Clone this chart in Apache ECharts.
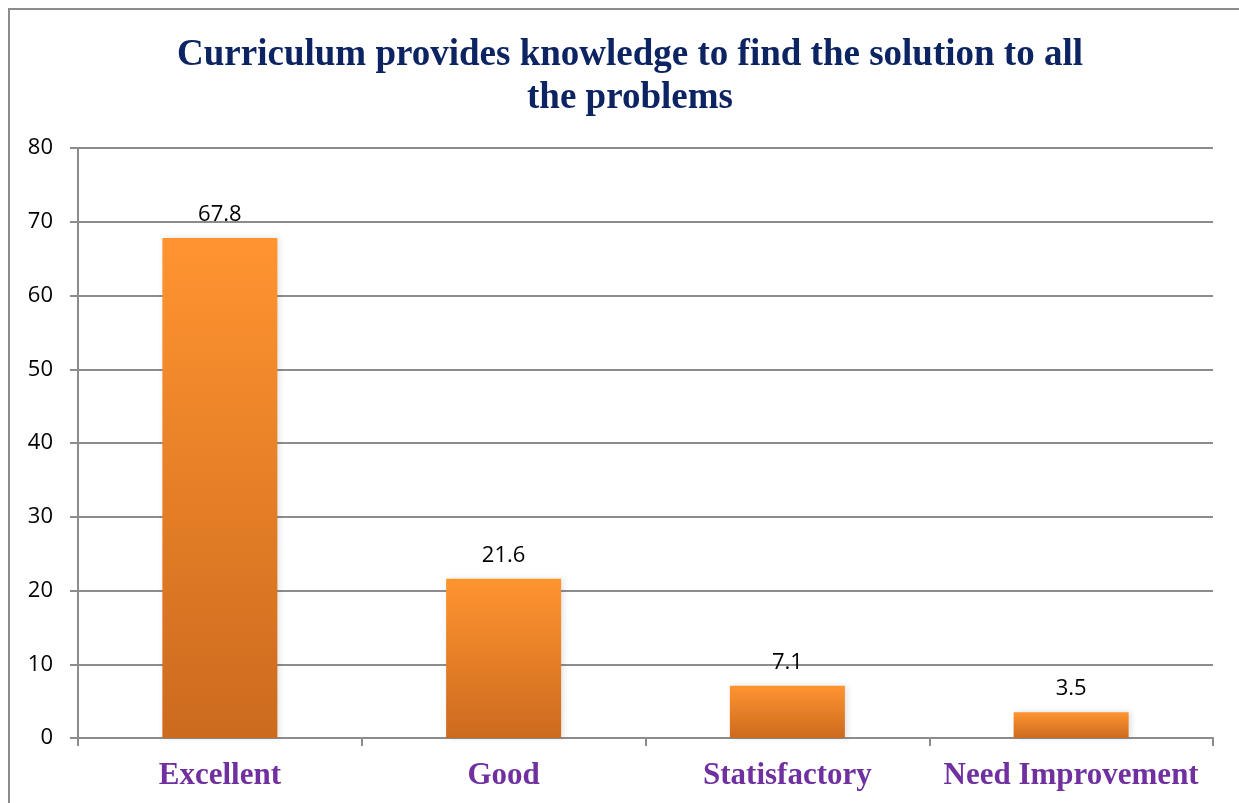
<!DOCTYPE html>
<html>
<head>
<meta charset="utf-8">
<script src="https://cdn.jsdelivr.net/npm/echarts@6/dist/echarts.min.js"></script>
<style>
  html, body { margin: 0; padding: 0; background: #fff; }
  #main { width: 1239px; height: 803px; }
</style>
</head>
<body>
<div id="main"></div>
<script>
var categories = ['Excellent', 'Good', 'Statisfactory', 'Need Improvement'];
var values = [67.8, 21.6, 7.1, 3.5];
var titleText = 'Curriculum provides knowledge to find the solution to all\nthe problems';

var chart = echarts.init(document.getElementById('main'));
var option = {
    backgroundColor: '#fff',
    animation: false,
    title: {
        text: titleText,
        left: 625,
        textAlign: 'center',
        top: 29,
        textStyle: {
            fontFamily: 'Liberation Serif',
            fontWeight: 'bold',
            fontSize: 37,
            lineHeight: 43,
            color: '#0D2463'
        }
    },
    graphic: [{
        type: 'rect',
        shape: { x: 9, y: 9, width: 1240, height: 800 },
        style: { fill: 'none', stroke: '#8c8c8c', lineWidth: 2 },
        silent: true
    }],
    grid: {
        left: 78,
        right: 26,
        top: 148,
        bottom: 65
    },
    xAxis: {
        type: 'category',
        data: categories,
        axisLine: { lineStyle: { color: '#8c8c8c', width: 2 } },
        axisTick: { show: true, length: 8, lineStyle: { color: '#8c8c8c', width: 2 } },
        axisLabel: {
            interval: 0,
            margin: 22,
            fontFamily: 'Liberation Serif',
            fontWeight: 'bold',
            fontSize: 31,
            color: '#7030A0'
        }
    },
    yAxis: {
        type: 'value',
        min: 0,
        max: 80,
        interval: 10,
        axisLine: { show: true, lineStyle: { color: '#8c8c8c', width: 2 } },
        axisTick: { show: true, length: 8, lineStyle: { color: '#8c8c8c', width: 2 } },
        splitLine: { lineStyle: { color: '#8c8c8c', width: 2 } },
        axisLabel: {
            margin: 25,
            fontFamily: 'Open Sans',
            fontSize: 22,
            color: '#000'
        }
    },
    series: [{
        type: 'bar',
        data: values,
        barWidth: 115,
        itemStyle: {
            color: new echarts.graphic.LinearGradient(0, 0, 0, 1, [
                { offset: 0, color: '#FF9430' },
                { offset: 1, color: '#CC6A1E' }
            ]),
            shadowColor: 'rgba(0,0,0,0.12)',
            shadowBlur: 6,
            shadowOffsetX: 2
        },
        label: {
            show: true,
            position: 'top',
            distance: 12,
            fontFamily: 'Open Sans',
            fontSize: 22,
            color: '#000'
        }
    }]
};
chart.setOption(option);
</script>
</body>
</html>
